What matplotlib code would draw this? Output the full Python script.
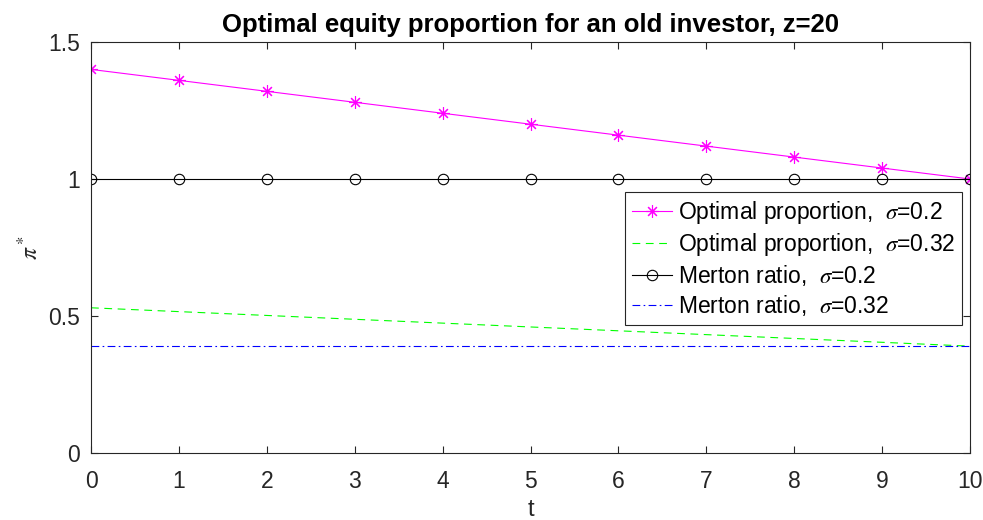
import numpy as np
import matplotlib
matplotlib.use('Agg')
import matplotlib.pyplot as plt

# data
t = [0, 1, 2, 3, 4, 5, 6, 7, 8, 9, 10]
opt_02 = [1.40, 1.36, 1.32, 1.28, 1.24, 1.20, 1.16, 1.12, 1.08, 1.04, 1.00]
opt_032 = [0.530, 0.516, 0.502, 0.488, 0.474, 0.460, 0.446, 0.432, 0.418, 0.404, 0.390]
merton_02 = [1.0] * 11
merton_032 = [0.3906] * 11

plt.rcParams['font.family'] = ['Liberation Sans', 'DejaVu Sans']
plt.rcParams['mathtext.fontset'] = 'stix'

axcol = '#262626'
fig = plt.figure(figsize=(9.83, 5.2), dpi=100)
ax = fig.add_axes([91 / 983, 1 - 453 / 520, (970 - 91) / 983, (453 - 42) / 520])

ax.plot(t, opt_02, color='#ff00ff', lw=0.8, marker=(8, 2, 0), ms=9, mew=0.8,
        label=r'Optimal proportion,  $\sigma$=0.2')
ax.plot(t, opt_032, color='#00ff00', lw=0.8, ls=(0, (7, 5)),
        label=r'Optimal proportion,  $\sigma$=0.32')
ax.plot(t, merton_02, color='black', lw=0.8, marker='o', ms=7.5, mfc='none', mew=0.8,
        label=r'Merton ratio,  $\sigma$=0.2')
ax.plot(t, merton_032, color='#0000ff', lw=0.8, ls=(0, (7, 3, 1.5, 3)),
        label=r'Merton ratio,  $\sigma$=0.32')

ax.set_xlim(0, 10)
ax.set_ylim(0, 1.5)
ax.set_xticks(range(0, 11))
ax.set_yticks([0, 0.5, 1, 1.5])
ax.set_yticklabels(['0', '0.5', '1', '1.5'])
ax.tick_params(direction='in', top=True, right=True, length=5, width=0.8,
               colors=axcol, labelsize=16.5, labelcolor=axcol)
ax.tick_params(axis='x', pad=12)
ax.tick_params(axis='y', pad=8)
for s in ax.spines.values():
    s.set_color(axcol)
    s.set_linewidth(0.8)

ax.set_title('Optimal equity proportion for an old investor, z=20',
             fontsize=18.5, fontweight='bold', pad=7)
ax.set_xlabel('t', fontsize=17, color=axcol)
ax.set_ylabel(r'$\pi^*$', fontsize=17, color=axcol)
ax.xaxis.set_label_coords(0.5, -0.112)
ax.yaxis.set_label_coords(-0.054, 0.5)

leg = ax.legend(loc='upper right', bbox_to_anchor=(0.991, 0.635), fontsize=16.5,
                frameon=True, fancybox=False, edgecolor=axcol, framealpha=1,
                handlelength=1.75, handletextpad=0.25, borderpad=0.3,
                labelspacing=0.22, borderaxespad=0)
leg.get_frame().set_linewidth(0.8)

fig.savefig('out.png', dpi=100)
